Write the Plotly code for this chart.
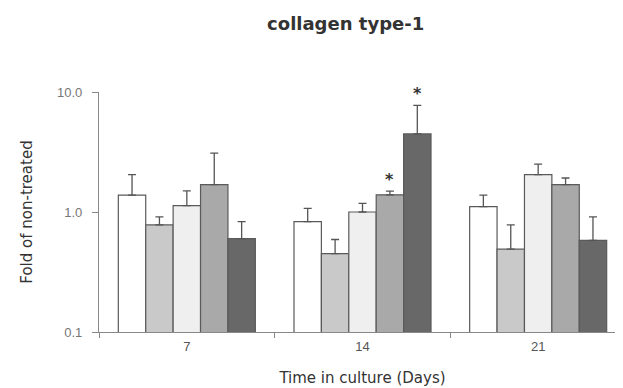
import numpy as np
import plotly.graph_objects as go

days = ["7", "14", "21"]
series_names = ["Group A", "Group B", "Group C", "Group D", "Group E"]
colors = ["#ffffff", "#c9c9c9", "#efefef", "#a9a9a9", "#686868"]
values = [
    [1.38, 0.83, 1.11],
    [0.78, 0.45, 0.49],
    [1.13, 1.00, 2.05],
    [1.69, 1.39, 1.69],
    [0.60, 4.47, 0.58],
]
err_tops = [
    [2.05, 1.07, 1.38],
    [0.91, 0.59, 0.78],
    [1.50, 1.18, 2.51],
    [3.10, 1.49, 1.92],
    [0.83, 7.75, 0.91],
]
# significance markers: (series index, day)
stars = [(3, "14"), (4, "14")]

fig = go.Figure()
for i, name in enumerate(series_names):
    v = np.array(values[i])
    e = np.array(err_tops[i]) - v
    fig.add_trace(go.Bar(
        x=days, y=v, name=name,
        marker=dict(color=colors[i], line=dict(color="#5a5a5a", width=1.2)),
        error_y=dict(type="data", array=e, arrayminus=[0]*len(e), symmetric=False,
                     color="#555555", thickness=1.3, width=4),
        showlegend=False,
    ))

group_px = 137
n = len(series_names)
for si, d in stars:
    di = days.index(d)
    off = (si - (n - 1) / 2) * group_px / n
    fig.add_annotation(x=di, y=np.log10(err_tops[si][di]), xref="x", yref="y",
                       text="<b>*</b>", showarrow=False, xshift=off, yanchor="bottom", yshift=0,
                       font=dict(size=16, color="#333333", family="DejaVu Sans"))

fig.update_layout(
    width=623, height=388,
    margin=dict(l=91, r=5, t=84, b=64),
    paper_bgcolor="white", plot_bgcolor="white",
    barmode="group", bargap=0.22, bargroupgap=0,
    font=dict(family="DejaVu Sans", color="#444444", size=12),
    title=dict(text="<b>collagen type-1</b>", xref="container", x=0.542, xanchor="center",
               yref="container", y=0.96, yanchor="middle",
               font=dict(size=18, color="#333333", family="DejaVu Sans")),
)
fig.update_yaxes(type="log", range=[-1, 1], tickvals=[0.1, 1, 10], ticktext=["0.1", "1.0", "10.0"],
                 showline=True, linecolor="#888888", linewidth=1.2, ticks="outside", ticklen=6,
                 tickcolor="#888888", showgrid=False, zeroline=False, ticklabelstandoff=7,
                 title=dict(text="Fold of non-treated", font=dict(size=15, color="#333333",
                            family="DejaVu Sans"), standoff=20),
                 tickfont=dict(size=13, color="#777777", family="Liberation Sans"))
fig.update_xaxes(type="category", range=[-0.5, 2.5], showline=True, linecolor="#888888", linewidth=1.2,
                 ticks="outside", tickson="boundaries", ticklen=5, tickcolor="#888888",
                 showgrid=False, ticklabelstandoff=2,
                 tickfont=dict(size=13, color="#555555", family="Liberation Sans"),
                 title=dict(text="Time in culture (Days)", font=dict(size=15, color="#333333",
                            family="DejaVu Sans"), standoff=19))

fig.write_html("out.html")
